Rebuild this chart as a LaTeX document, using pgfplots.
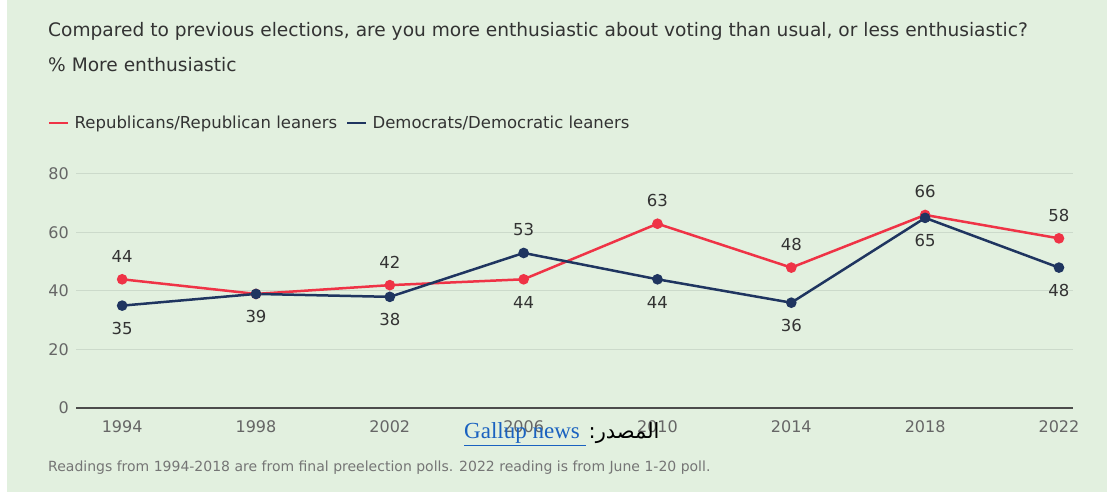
\documentclass[border=0pt]{standalone}
\usepackage{pgfplots}
\pgfplotsset{compat=1.18}
\usepackage{pgfplotstable}
\usepackage{fontspec}
\setmainfont{DejaVu Sans}
\newfontfamily\seriffont{Liberation Serif}
\newfontfamily\arabicfont[Script=Arabic]{DejaVu Sans}
\TeXXeTstate=1

\definecolor{bg}{HTML}{E2F0DF}
\definecolor{rep}{HTML}{EF3346}
\definecolor{dem}{HTML}{1F3560}
\definecolor{txt}{HTML}{333333}
\definecolor{tick}{HTML}{666666}
\definecolor{gridc}{HTML}{CCDACB}
\definecolor{link}{HTML}{1A62C0}

% pos: 1 label above, -1 label below
\pgfplotstableread{
x y pos lab
1994 44 1 44
1998 39 1 {}
2002 42 1 42
2006 44 -1 44
2010 63 1 63
2014 48 1 48
2018 66 1 66
2022 58 1 58
}\rep
\pgfplotstableread{
x y pos lab
1994 35 -1 35
1998 39 -1 39
2002 38 -1 38
2006 53 1 53
2010 44 -1 44
2014 36 -1 36
2018 65 -1 65
2022 48 -1 48
}\dem

\begin{document}
\begin{tikzpicture}
\fill[white] (0bp,0bp) rectangle (1107bp,492bp);
\fill[bg] (7bp,0bp) rectangle (1107bp,492bp);

\node[anchor=base west, inner sep=0, text=txt, font=\fontsize{18.6bp}{20bp}\selectfont]
  at (48bp,455bp) {Compared to previous elections, are you more enthusiastic about voting than usual, or less enthusiastic?};
\node[anchor=base west, inner sep=0, text=txt, font=\fontsize{18.6bp}{20bp}\selectfont]
  at (48bp,420bp) {\% More enthusiastic};

\begin{axis}[
  at={(76bp,84bp)}, anchor=south west,
  scale only axis, width=997bp, height=234bp,
  xmin=1992.62, xmax=2022.42, ymin=0, ymax=80,
  xtick={1994,1998,...,2022}, ytick={0,20,...,80},
  xticklabel={\pgfmathprintnumber[1000 sep={}]{\tick}},
  /pgf/number format/assume math mode=true,
  axis x line=bottom, axis y line=left,
  x axis line style={draw=black!70, line width=1.6bp, -},
  y axis line style={draw=none},
  major tick length=0pt,
  ymajorgrids, grid style={gridc, line width=1bp},
  tick label style={font=\fontsize{16bp}{16bp}\selectfont, text=tick},
  xticklabel style={anchor=center, yshift=-19bp},
  yticklabel style={anchor=east, inner sep=0pt, xshift=-7bp},
  clip=false,
  legend style={at={(axis description cs:-0.0281,1.218)}, anchor=west,
    draw=none, fill=none, inner sep=0pt, legend columns=-1,
    font=\fontsize{16.5bp}{16.5bp}\selectfont, text=txt,
    nodes={inner xsep=5bp},
    /tikz/every even column/.append style={column sep=4bp}},
  legend image code/.code={\draw[#1, mark=none] (0bp,0bp) -- (19bp,0bp);},
  lbl/.style={
    point meta=explicit symbolic,
    visualization depends on={\thisrow{pos} \as \lpos},
    nodes near coords,
    every node near coord/.append style={anchor=center, yshift=\lpos*23bp,
      font=\fontsize{16.5bp}{16.5bp}\selectfont, text=txt}},
]
\addplot[rep, line width=2.5bp, mark=*, mark size=4bp, lbl] table[x=x, y=y, meta=lab] {\rep};
\addplot[dem, line width=2.5bp, mark=*, mark size=4bp, lbl] table[x=x, y=y, meta=lab] {\dem};
\legend{Republicans/Republican leaners, Democrats/Democratic leaners}
\end{axis}

\node[anchor=base west, inner sep=0, text=tick!90, font=\fontsize{14bp}{15bp}\selectfont]
  at (48bp,21bp) {Readings from 1994-2018 are from final preelection polls. 2022 reading is from June 1-20 poll.};

\node[anchor=base west, inner sep=0] at (464bp,53bp)
  {{\seriffont\fontsize{23bp}{23bp}\selectfont\color{link}\underline{Gallup news\ }}\ {\arabicfont\fontsize{21bp}{21bp}\selectfont\beginR المصدر:\endR}};

\pgfresetboundingbox
\useasboundingbox (0bp,0bp) rectangle (1107bp,492bp);
\end{tikzpicture}
\end{document}
